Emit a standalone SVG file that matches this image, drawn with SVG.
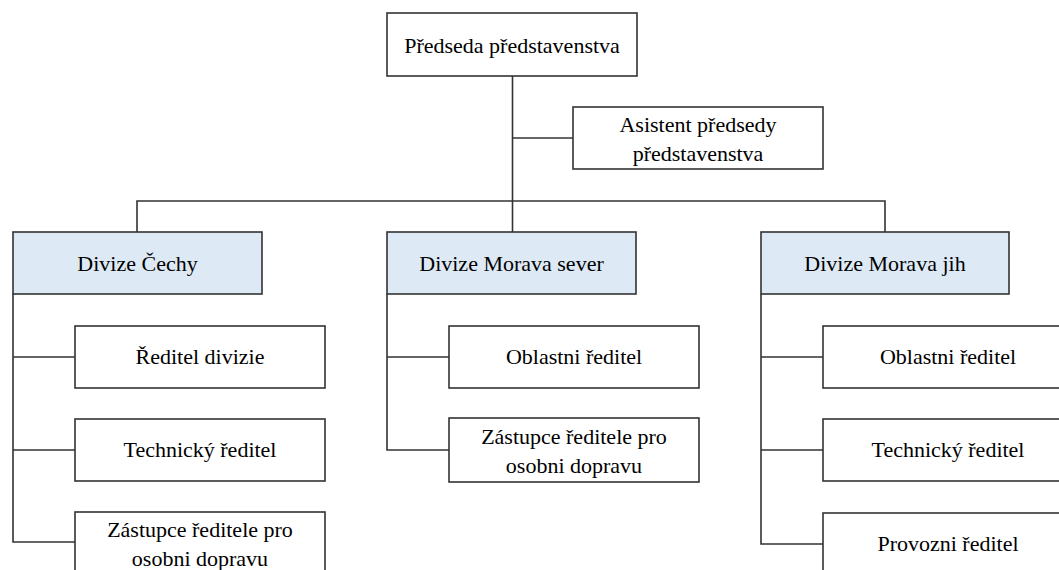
<svg xmlns="http://www.w3.org/2000/svg" width="1059" height="570" viewBox="0 0 1059 570">
<style>
.box{fill:#ffffff;stroke:#333333;stroke-width:1.6}
.div{fill:#DDEAF6;stroke:#333333;stroke-width:1.6}
.ln{fill:none;stroke:#333333;stroke-width:1.6}
</style>
<rect width="1059" height="570" fill="#ffffff"/>
<g id="connectors">
<path class="ln" d="M512.5 76 V232"/>
<path class="ln" d="M512.5 138 H573"/>
<path class="ln" d="M137 232 V201 H885 V232"/>
<path class="ln" d="M13 294 V542 H75 M13 357 H75 M13 450 H75"/>
<path class="ln" d="M387 294 V450 H449 M387 357 H449"/>
<path class="ln" d="M761 294 V544 H823 M761 357 H823 M761 450 H823"/>
</g>
<g font-family="Liberation Serif, serif" font-size="22" fill="#000000" text-anchor="middle">
<g id="chair"><rect class="box" x="387" y="13" width="250" height="63"/><text x="512" y="53">Předseda představenstva</text></g>
<g id="assistant"><rect class="box" x="573" y="107" width="250" height="62"/><text x="698" y="132">Asistent předsedy</text><text x="698" y="161">představenstva</text></g>
<g id="div-cechy"><rect class="div" x="13" y="232" width="249" height="62"/><text x="137.5" y="271">Divize Čechy</text></g>
<g id="div-sever"><rect class="div" x="387" y="232" width="249" height="62"/><text x="511.5" y="271">Divize Morava sever</text></g>
<g id="div-jih"><rect class="div" x="761" y="232" width="248" height="62"/><text x="885" y="271">Divize Morava jih</text></g>
<g id="c1"><rect class="box" x="75" y="326" width="250" height="62"/><text x="200" y="364">Ředitel divizie</text></g>
<g id="c2"><rect class="box" x="75" y="419" width="250" height="62"/><text x="200" y="457">Technický ředitel</text></g>
<g id="c3"><rect class="box" x="75" y="512" width="250" height="64"/><text x="200" y="537">Zástupce ředitele pro</text><text x="200" y="566">osobni dopravu</text></g>
<g id="s1"><rect class="box" x="449" y="326" width="250" height="62"/><text x="574" y="364">Oblastni ředitel</text></g>
<g id="s2"><rect class="box" x="449" y="418" width="250" height="64"/><text x="574" y="444">Zástupce ředitele pro</text><text x="574" y="473">osobni dopravu</text></g>
<g id="j1"><rect class="box" x="823" y="326" width="250" height="62"/><text x="948" y="364">Oblastni ředitel</text></g>
<g id="j2"><rect class="box" x="823" y="419" width="250" height="62"/><text x="948" y="457">Technický ředitel</text></g>
<g id="j3"><rect class="box" x="823" y="513" width="250" height="64"/><text x="948" y="551">Provozni ředitel</text></g>
</g>
</svg>
